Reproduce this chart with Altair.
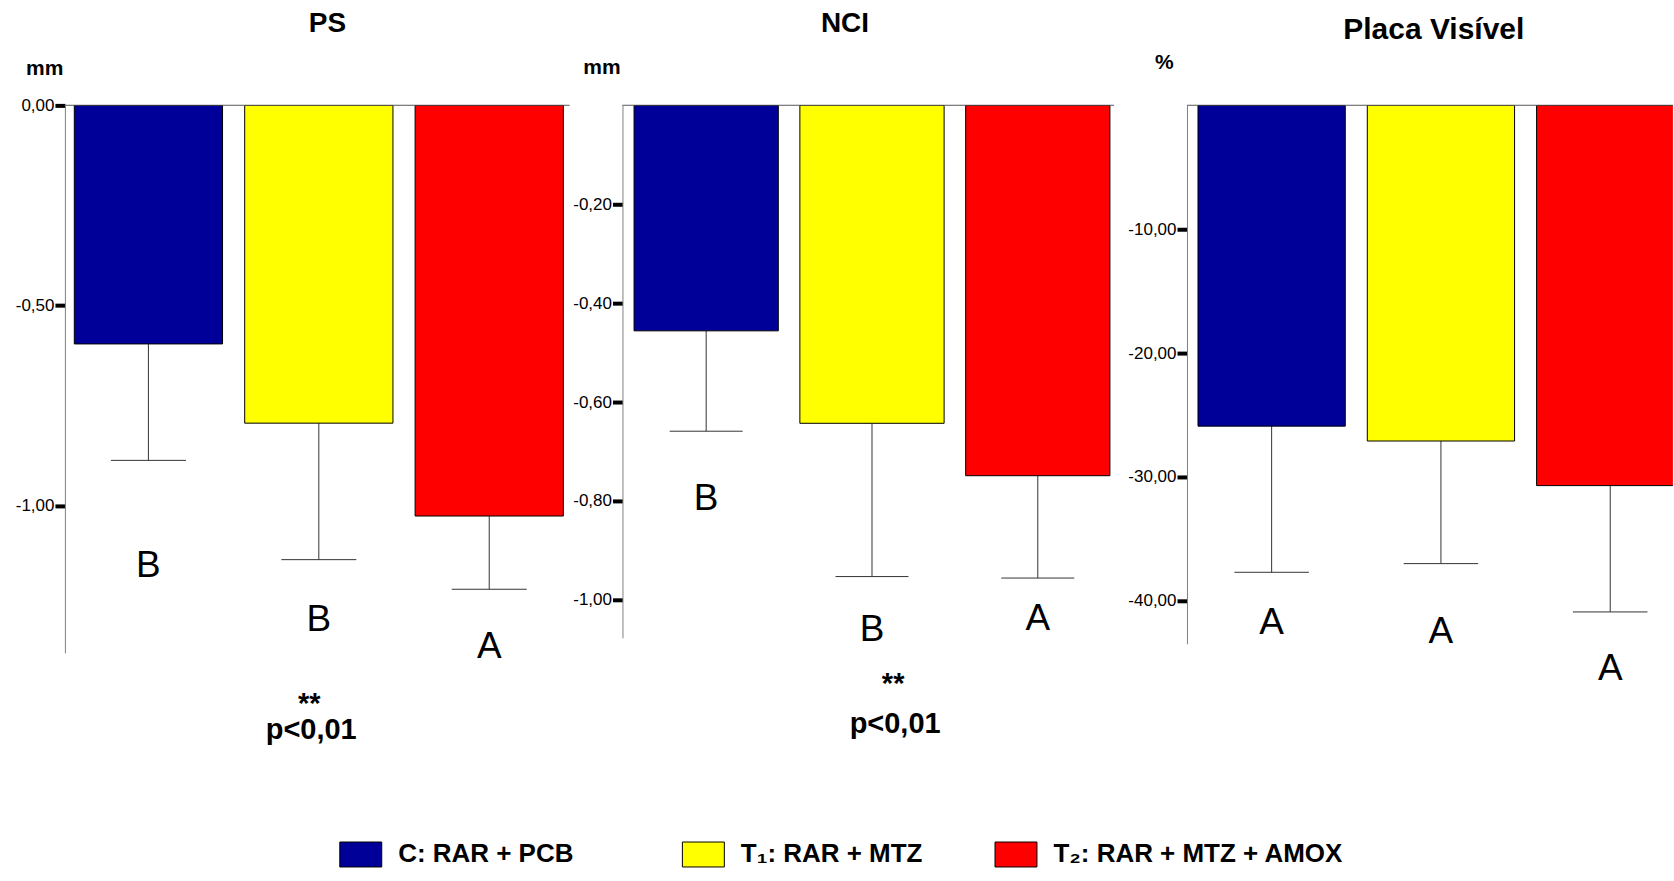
import altair as alt
import pandas as pd

# ---------------- data ----------------
groups = ["C: RAR + PCB", "T₁: RAR + MTZ", "T₂: RAR + MTZ + AMOX"]
colors = ["#000099", "#FFFF00", "#FF0000"]
positions = [0, 1, 2]

ps_mean = [-0.596, -0.794, -1.026]
ps_err = [-0.887, -1.135, -1.209]
ps_letters = ["B", "B", "A"]
ps_letter_y = [-1.179, -1.314, -1.381]
ps_ticks = [0, -0.5, -1.0]

nci_mean = [-0.456, -0.643, -0.749]
nci_err = [-0.659, -0.953, -0.956]
nci_letters = ["B", "B", "A"]
nci_letter_y = [-0.818, -1.084, -1.061]
nci_ticks = [-0.2, -0.4, -0.6, -0.8, -1.0]

pv_mean = [-25.9, -27.1, -30.7]
pv_err = [-37.7, -37.0, -40.9]
pv_letters = ["A", "A", "A"]
pv_letter_y = [-42.7, -43.4, -46.4]
pv_ticks = [-10, -20, -30, -40]

FONT = "Liberation Sans"
HALF = 0.435
CAP = 0.22
# trailing non-breaking spaces (kept from trimming by a zero-width char) widen the first legend entry
PAD = "\u00a0" * 5 + "\u200b"

legend = alt.Legend(
    title=None, orient="none", legendX=274.7, legendY=728.5,
    direction="horizontal", symbolType="M-1,-0.595H1V0.595H-1Z",
    symbolSize=1764, symbolStrokeColor="black", symbolStrokeWidth=1,
    symbolOpacity=1, labelFont=FONT, labelFontWeight="bold",
    labelFontSize=26, labelColor="black", labelOffset=16, labelLimit=0,
    columnPadding=70, padding=0,
    labelExpr=f"datum.label == 'C: RAR + PCB' ? datum.label + '{PAD}' : datum.label",
)
color_enc = alt.Color("group:N", scale=alt.Scale(domain=groups, range=colors), legend=legend)

LABEL_EXPR = "replace(replace(format(datum.value, '.2f'), '.', ','), '\u2212', '-')"


def text_layer(txt, x, y, size, weight="bold", align="center"):
    return alt.Chart(pd.DataFrame({"t": [txt]})).mark_text(
        font=FONT, fontSize=size, fontWeight=weight, color="black",
        align=align, baseline="alphabetic"
    ).encode(x=alt.value(x), y=alt.value(y), text="t:N")


def panel(mean, err, letters, letter_y, ticks, ydom, xdom, w, h,
          title, title_xy, title_size, unit, unit_xy, line_w, extras):
    df = pd.DataFrame({"group": groups, "idx": positions, "mean": mean,
                       "err": err, "letter": letters, "ly": letter_y})
    base = alt.Chart(df).transform_calculate(
        x1=f"datum.idx - {HALF}", x2=f"datum.idx + {HALF}",
        c1=f"datum.idx - {CAP}", c2=f"datum.idx + {CAP}", zero="0")
    xsc = alt.Scale(domain=xdom, nice=False, zero=False)
    ysc = alt.Scale(domain=ydom, nice=False, zero=False)
    yaxis = alt.Axis(title=None, values=ticks, labelExpr=LABEL_EXPR, grid=False,
                     tickSize=10, tickWidth=4, tickColor="black",
                     domainColor="#808080", domainWidth=1,
                     labelFont=FONT, labelFontSize=17, labelColor="black",
                     labelPadding=1)

    def X(f):
        return alt.X(f, type="quantitative", scale=xsc, axis=None)

    def Y(f):
        return alt.Y(f, type="quantitative", scale=ysc, axis=yaxis)

    zero_line = base.mark_rule(color="#808080", strokeWidth=1).encode(
        y=Y("zero"), x=alt.value(0), x2=alt.value(line_w))
    err_line = base.mark_rule(color="#333333", strokeWidth=1).encode(
        x=X("idx"), y=Y("mean"), y2="err:Q")
    err_cap = base.mark_rule(color="#333333", strokeWidth=1).encode(
        x=X("c1"), x2="c2:Q", y=Y("err"))
    bars = base.mark_bar(stroke="black", strokeWidth=1, clip=True, opacity=1).encode(
        x=X("x1"), x2="x2:Q", y=Y("mean"), y2="zero:Q", color=color_enc)
    lett = base.mark_text(font=FONT, fontSize=37, color="black",
                          baseline="alphabetic", align="center").encode(
        x=X("idx"), y=Y("ly"), text="letter:N")
    layers = [zero_line, err_line, err_cap, bars, lett,
              text_layer(title, title_xy[0], title_xy[1], title_size),
              text_layer(unit, unit_xy[0], unit_xy[1], 21)]
    layers += extras
    return alt.layer(*layers).properties(width=w, height=h)


pin = alt.Chart(pd.DataFrame({"a": [0]})).mark_rule(color="white", strokeWidth=1).encode(
    x=alt.value(-63.8), x2=alt.value(-62.8), y=alt.value(-104.5), y2=alt.value(-104.5))

p1 = panel(ps_mean, ps_err, ps_letters, ps_letter_y, ps_ticks,
           [-548 / 400.7, 0], [-0.49, 2.47], 505, 548,
           "PS", (262.9, -73.3), 28, "mm", (-20.3, -30), 505,
           [pin,
            text_layer("**", 244.7, 608, 29),
            text_layer("p<0,01", 246.6, 634.3, 29)])

p2 = panel(nci_mean, nci_err, nci_letters, nci_letter_y, nci_ticks,
           [-533 / 495, 0], [-0.505, -0.505 + 511.2 / 166], 511.2, 533,
           "NCI", (222.8, -73.3), 28, "mm", (-20.5, -31.7), 492,
           [text_layer("**", 271, 588, 29),
            text_layer("p<0,01", 273, 628.3, 29)])

p3 = panel(pv_mean, pv_err, pv_letters, pv_letter_y, pv_ticks,
           [-43.47, 0], [-0.5, -0.5 + 486.5 / 169.5], 486.5, 539,
           "Placa Visível", (247.1, -66.7), 30, "%", (-22.7, -36), 486.5,
           [])

chart = alt.hconcat(p1, p2, p3).properties(
    spacing=53.2, bounds="flush", padding=0
).configure_view(stroke=None)

chart.save("out.html", embed_options={"renderer": "svg", "actions": False})
